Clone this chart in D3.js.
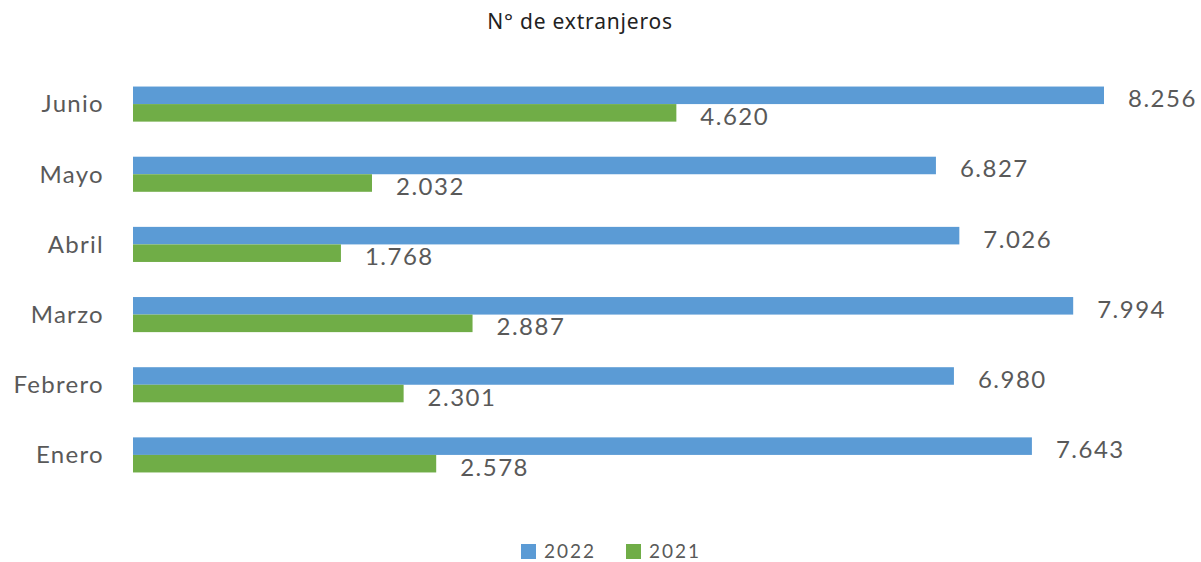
<!DOCTYPE html>
<html><head><meta charset="utf-8">
<script src="https://cdn.jsdelivr.net/npm/d3@7"></script>
<style>body{margin:0;background:#fff}</style>
</head><body>
<svg id="c" width="1201" height="562"></svg>
<script>
const categories = ["Junio","Mayo","Abril","Marzo","Febrero","Enero"];
const values2022 = [8256,6827,7026,7994,6980,7643];
const values2021 = [4620,2032,1768,2887,2301,2578];
const seriesNames = ["2022","2021"];
const colors = ["#5B9BD5","#70AD47"];

const svg = d3.select("#c");
const xs = d3.scaleLinear().domain([0,8256]).range([133,1104]);
const y = d3.scaleBand().domain(categories).range([69,490]).paddingInner(0.5).paddingOuter(0.25);
const sub = d3.scaleBand().domain(seriesNames).range([0,y.bandwidth()]);
const fmt = v => { const s = String(v); return s.length>3 ? s.slice(0,s.length-3)+"."+s.slice(-3) : s; };

svg.append("text").attr("x",580).attr("y",29).attr("text-anchor","middle")
  .attr("font-family","Noto Sans").attr("font-size",21).attr("letter-spacing",0.8).attr("fill","#222").text("N° de extranjeros");

const series = [values2022, values2021];
series.forEach((vals,si)=>{
  const g = svg.append("g");
  g.selectAll("rect").data(categories).join("rect")
    .attr("x",xs(0)).attr("y",(c)=>y(c)+sub(seriesNames[si]))
    .attr("width",(c,i)=>xs(vals[i])-xs(0)).attr("height",sub.bandwidth())
    .attr("fill",colors[si]);
  g.selectAll("text").data(categories).join("text")
    .attr("x",(c,i)=>xs(vals[i])+24).attr("y",(c)=>y(c)+sub(seriesNames[si])+sub.bandwidth()/2+12)
    .attr("font-family","Lato").attr("font-size",24).attr("letter-spacing",1.5).attr("fill","#595959")
    .text((c,i)=>fmt(vals[i]));
});

const ax = svg.append("g").attr("transform","translate(133,0)").call(d3.axisLeft(y).tickSize(0).tickPadding(29));
ax.select(".domain").remove();
ax.selectAll("text").attr("font-family","Lato").attr("font-size",24).attr("letter-spacing",1.3).attr("fill","#595959").attr("dy","0.35em");

const leg = svg.append("g");
const lx = [521,626];
seriesNames.forEach((n,i)=>{
  leg.append("rect").attr("x",lx[i]).attr("y",544).attr("width",15).attr("height",15).attr("fill",colors[i]);
  leg.append("text").attr("x",lx[i]+23).attr("y",558).attr("font-family","Lato").attr("font-size",19).attr("fill","#595959").attr("letter-spacing",2).text(n);
});
</script>
</body></html>
